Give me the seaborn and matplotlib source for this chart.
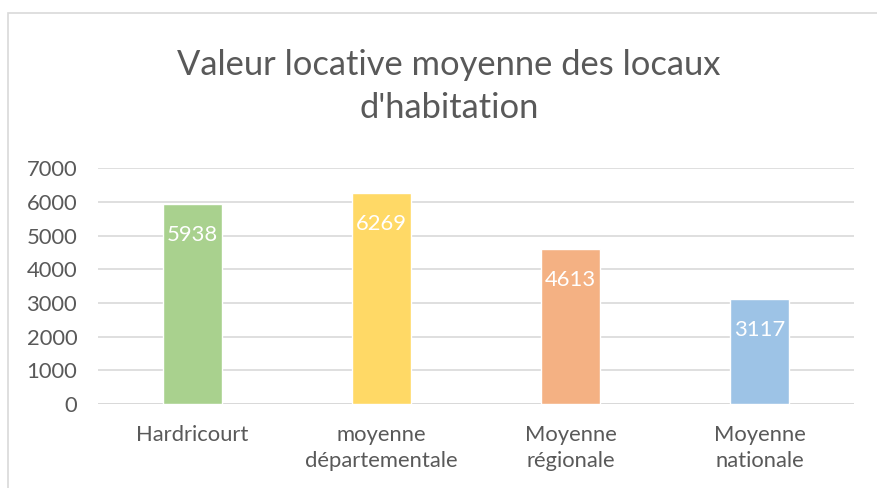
import matplotlib
matplotlib.use("Agg")
import matplotlib.pyplot as plt
from matplotlib.patches import Rectangle
import seaborn as sns

# data
categories = ["Hardricourt", "moyenne\ndépartementale", "Moyenne\nrégionale", "Moyenne\nnationale"]
values = [5938, 6269, 4613, 3117]
bar_colors = ["#A9D18E", "#FFD966", "#F4B183", "#9DC3E6"]
y_ticks = [0, 1000, 2000, 3000, 4000, 5000, 6000, 7000]
title_lines = ["Valeur locative moyenne des locaux", "d'habitation"]

sns.set_style("white")
plt.rcParams["font.family"] = ["Lato", "DejaVu Sans"]

text_col = "#595959"
grid_col = "#D9D9D9"

fig = plt.figure(figsize=(8.77, 4.88), dpi=100)
ax = fig.add_axes([98 / 877, 84 / 488, 756 / 877, 235.7 / 488])

sns.barplot(x=categories, y=values, hue=categories, palette=bar_colors,
            width=0.317, legend=False, saturation=1, ax=ax, zorder=3)

ax.set_ylim(0, 7000)
ax.set_yticks(y_ticks)
ax.yaxis.grid(True, color=grid_col, linewidth=1.2, zorder=0)
ax.xaxis.grid(False)
for s in ax.spines.values():
    s.set_visible(False)
ax.axhline(0, color=grid_col, linewidth=1.4, zorder=1)
ax.set_xlabel("")
ax.set_ylabel("")
ax.tick_params(axis="y", length=0, pad=15, labelsize=15.8, labelcolor=text_col)
ax.tick_params(axis="x", length=0, pad=15, labelsize=15.8, labelcolor=text_col)
for lab in ax.get_xticklabels():
    lab.set_linespacing(1.4)

# value labels inside the top of each bar
for i, v in enumerate(values):
    ax.annotate(str(v), (i, v), xytext=(0, -22.5), textcoords="offset points",
                ha="center", va="center", color="white", fontsize=15.8, zorder=4)

# title
fig.text(449 / 877, 1 - 75 / 488, title_lines[0], ha="center", va="baseline",
         fontsize=24.8, color=text_col)
fig.text(449 / 877, 1 - 118 / 488, title_lines[1], ha="center", va="baseline",
         fontsize=24.8, color=text_col)

# chart frame
fig.add_artist(Rectangle((8 / 877, -0.2), 2, 1.2 - 13 / 488, transform=fig.transFigure,
                         fill=False, edgecolor=grid_col, linewidth=1.2))

fig.savefig("out.png", dpi=100)
